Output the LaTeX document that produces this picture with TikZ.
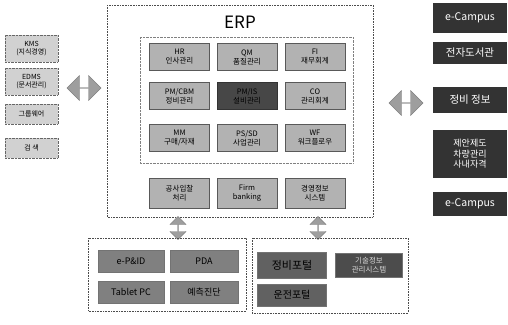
\documentclass[tikz,border=0pt]{standalone}
\usepackage{fontspec}
\setmainfont{Noto Sans CJK KR}
\usetikzlibrary{shapes.arrows, positioning}

\begin{document}
\begin{tikzpicture}[
  x=1pt, y=-1pt,
  frame/.style={draw=black!70, densely dotted, line width=0.6pt},
  lbox/.style={rectangle, draw=black!60, densely dotted, fill=black!18, minimum width=53pt, font=\fontsize{7}{8}\selectfont, align=center, inner sep=1pt},
  mbox/.style={rectangle, draw=black!65, line width=0.8pt, fill=black!30, minimum width=60pt, minimum height=27pt, font=\fontsize{7.5}{9}\selectfont, align=center, inner sep=1pt},
  pbox/.style={rectangle, draw=black!55, fill=black!50, minimum height=22pt, font=\fontsize{9}{10}\selectfont, align=center, inner sep=1pt},
  rbox/.style={rectangle, fill=black!80, text=white, minimum width=74pt, font=\fontsize{10.5}{12}\selectfont, align=center, inner sep=1pt},
  darrow/.style={double arrow, fill=black!38, draw=black!50, minimum height=34pt, minimum width=25pt, double arrow head extend=5pt, inner sep=0pt}
]
  \useasboundingbox (0,0) rectangle (508,324);

  % left systems
  \node[lbox, minimum height=27pt] (kms) at (31.5,48.5) {KMS\\(지식경영)};
  \node[lbox, minimum height=27pt] (edms) at (31.5,81.5) {EDMS\\(문서관리)};
  \node[lbox, minimum height=20pt] (gw) at (31.5,114) {그룹웨어};
  \node[lbox, minimum height=20pt] (srch) at (31.5,148) {검 색};
  \node[darrow] (larrow) at (84,88) {};

  % ERP
  \draw[frame] (107,5) rectangle (373,217);
  \node[font=\fontsize{17}{18}\selectfont] (erp) at (240,22) {ERP};
  \draw[draw=black!50, densely dotted] (140,37) rectangle (353,163);

  \node[mbox] (hr) at (179.5,57) {HR\\인사관리};
  \node[mbox] (qm) at (247,57) {QM\\품질관리};
  \node[mbox] (fi) at (315,57) {FI\\재무회계};
  \node[mbox] (pm) at (179.5,96) {PM/CBM\\정비관리};
  \node[mbox, fill=black!72, draw=black!80] (is) at (247,96) {PM/IS\\설비관리};
  \node[mbox] (co) at (315,96) {CO\\관리회계};
  \node[mbox] (mm) at (179.5,138) {MM\\구매/자재};
  \node[mbox] (ps) at (247,138) {PS/SD\\사업관리};
  \node[mbox] (wf) at (315,138) {WF\\워크플로우};

  \node[mbox, minimum height=30pt] (bid) at (179.5,193) {공사입찰\\처리};
  \node[mbox, minimum height=30pt] (firm) at (247,193) {Firm\\banking};
  \node[mbox, minimum height=30pt] (mis) at (315,193) {경영정보\\시스템};

  \node[darrow, rotate=90, minimum height=23pt, minimum width=16pt, double arrow head extend=3pt] (darrow1) at (178,228) {};
  \node[darrow, rotate=90, minimum height=23pt, minimum width=16pt, double arrow head extend=3pt] (darrow2) at (318,228) {};

  % bottom left
  \draw[frame] (88,238) rectangle (246,311);
  \node[pbox, minimum width=66pt] (pid) at (131,261) {e-P\&ID};
  \node[pbox, minimum width=68pt] (pda) at (204,261) {PDA};
  \node[pbox, minimum width=66pt] (tab) at (131,292) {Tablet PC};
  \node[pbox, minimum width=68pt] (diag) at (204,292) {예측진단};

  % bottom right
  \draw[frame] (252,238) rectangle (408,313);
  \node[pbox, fill=black!62, minimum width=69pt, minimum height=26pt, font=\fontsize{11}{12}\selectfont] (mport) at (292,265) {정비포털};
  \node[pbox, fill=black!70, text=black!15, minimum width=67pt, minimum height=24pt, font=\fontsize{7.5}{8.5}\selectfont] (tech) at (369,265) {기술정보\\관리시스템};
  \node[pbox, fill=black!62, minimum width=69pt, font=\fontsize{10}{11}\selectfont] (oport) at (292,295) {운전포털};

  % right systems
  \node[darrow] (rarrow) at (406,103) {};
  \node[rbox, minimum height=30pt] (ecamp1) at (470,18) {e-Campus};
  \node[rbox, minimum height=22pt] (lib) at (470,52.5) {전자도서관};
  \node[rbox, minimum height=26pt] (minfo) at (470,100) {정비 정보};
  \node[rbox, minimum height=48pt, font=\fontsize{9}{10.5}\selectfont] (sugg) at (470,154) {제안제도\\차량관리\\사내자격};
  \node[rbox, minimum height=24pt] (ecamp2) at (470,204) {e-Campus};
\end{tikzpicture}
\end{document}
